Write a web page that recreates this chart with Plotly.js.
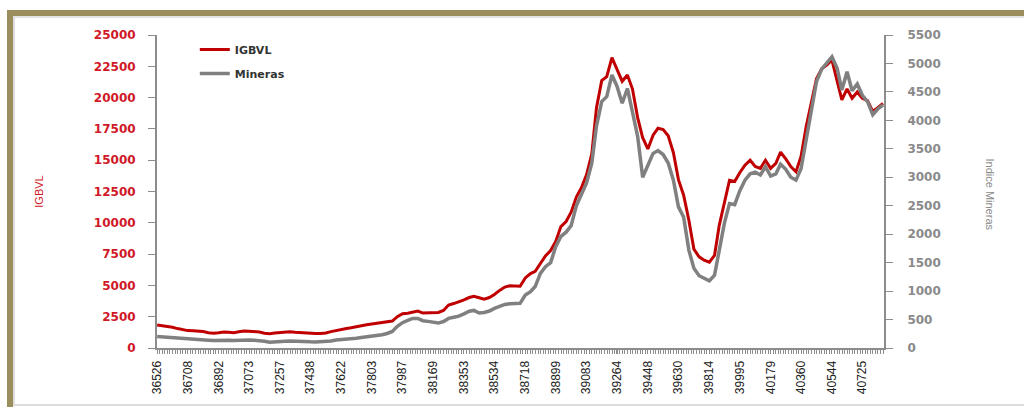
<!DOCTYPE html>
<html>
<head>
<meta charset="utf-8">
<script src="https://cdn.plot.ly/plotly-3.0.1.min.js"></script>
<style>
  html, body { margin: 0; padding: 0; background: #ffffff; width: 1024px; height: 407px; overflow: hidden; }
  #chart { position: absolute; left: 0; top: 0; width: 1024px; height: 407px; }
  .frame-olive { position: absolute; left: 7px; top: 10px; width: 1200px; height: 1200px;
                 border-left: 6px solid #9a8e5c; border-top: 6px solid #9a8e5c; pointer-events: none; }
  .frame-inner { position: absolute; left: 13px; top: 16px; width: 1200px; height: 386px;
                 border-left: 2px solid #dedede; border-top: 2px solid #e4e4e4; border-bottom: 2px solid #dcdcdc; pointer-events: none; }
</style>
</head>
<body>
<div id="chart"></div>
<div class="frame-olive"></div>
<div class="frame-inner"></div>
<script>
// Monthly observations, January 2000 to November 2011 (Excel date serials on the x axis)
const startYear = 2000, startMonth = 0, monthCount = 143;

// IGBVL index (left axis)
const igbvl = [
  1840, 1790, 1730, 1650, 1550, 1450, 1390, 1370, 1370, 1310, 1220, 1170,
  1220, 1280, 1260, 1220, 1290, 1350, 1340, 1310, 1280, 1180, 1140, 1190,
  1240, 1270, 1300, 1260, 1220, 1180, 1140, 1150, 1165, 1200, 1310, 1410,
  1500, 1560, 1610, 1710, 1790, 1850, 1910, 1970, 2040, 2080, 2150, 2500,
  2740, 2780, 2880, 2950, 2790, 2790, 2810, 2840, 3000, 3430, 3550, 3670,
  3840, 4030, 4130, 4010, 3900, 4030, 4270, 4600, 4870, 4970, 4930, 4930,
  5600, 5950, 6120, 6800, 7350, 7780, 8500, 9700, 10100, 10850, 12050, 12800,
  13850, 15500, 19200, 21350, 21670, 23200, 22300, 21300, 21800, 20700, 18400, 16800,
  15900, 17000, 17550, 17450, 16950, 15600, 13450, 12200, 10200, 7900, 7280, 7010,
  6850, 7400, 9800, 11700, 13400, 13300, 14000, 14600, 15000, 14500, 14350, 15000,
  14350, 14750, 15650, 15100, 14500, 14080, 15300, 17700, 19600, 21500, 22300, 22600,
  23000, 21400, 19810, 20700, 19950, 20450, 19950, 19750, 18900, 19200, 19540
];

// Indice Mineras (right axis)
const mineras = [
  200, 195, 185, 178, 172, 165, 162, 160, 158, 150, 138, 130,
  135, 141, 135, 130, 136, 141, 139, 137, 132, 118, 102, 102,
  110, 117, 123, 123, 123, 118, 108, 107, 109, 112, 125, 140,
  145, 150, 156, 170, 183, 192, 205, 220, 232, 255, 290, 380,
  445, 485, 520, 520, 480, 468, 455, 438, 465, 520, 540, 560,
  600, 645, 660, 615, 625, 650, 695, 730, 765, 778, 782, 785,
  930, 990, 1080, 1312, 1430, 1500, 1780, 1960, 2035, 2150, 2500, 2690,
  2900, 3250, 3900, 4330, 4416, 4800, 4600, 4300, 4560, 4150, 3720, 3000,
  3220, 3420, 3470, 3400, 3250, 2950, 2480, 2300, 1720, 1400, 1270, 1230,
  1180, 1280, 1700, 2200, 2540, 2520, 2760, 2950, 3060, 3090, 3040, 3185,
  3020, 3060, 3230, 3140, 3000, 2950, 3150, 3650, 4150, 4680, 4900, 5000,
  5118, 4914, 4533, 4855, 4520, 4640, 4440, 4330, 4100, 4200, 4270
];

// X tick labels (Excel serial dates shown every six months)
const tickLabels = ['36526','36708','36892','37073','37257','37438','37622','37803',
  '37987','38169','38353','38534','38718','38899','39083','39264','39448','39630',
  '39814','39995','40179','40360','40544','40725'];
const tickVals = tickLabels.map(Number);

// Category serials: first day of each month
const excelEpoch = Date.UTC(1899, 11, 30);
const categories = [];
for (let k = 0; k < monthCount; k++) {
  const d = Date.UTC(startYear, startMonth + k, 1);
  categories.push(Math.round((d - excelEpoch) / 86400000));
}

const RED = '#c00000';
const GRAY = '#808080';
const AXIS = '#8c8c8c';

const traces = [
  { x: categories, y: igbvl, name: 'IGBVL', type: 'scatter', mode: 'lines',
    line: { color: RED, width: 3 }, legendgroup: 'a', yaxis: 'y' },
  { x: categories, y: mineras, name: 'Mineras', type: 'scatter', mode: 'lines',
    line: { color: GRAY, width: 3.5 }, legendgroup: 'b', yaxis: 'y2' }
];

const layout = {
  width: 1024, height: 407,
  margin: { l: 157, r: 140, t: 35, b: 59, pad: 0 },
  paper_bgcolor: 'rgba(0,0,0,0)',
  plot_bgcolor: 'rgba(0,0,0,0)',
  showlegend: true,
  legend: {
    x: 0.052, y: 1.0, xanchor: 'left', yanchor: 'top',
    bgcolor: 'rgba(0,0,0,0)', traceorder: 'grouped', tracegroupgap: 5,
    font: { family: 'DejaVu Sans, Verdana, sans-serif', size: 11, color: '#333333', weight: 'bold' }
  },
  xaxis: {
    type: 'linear',
    range: [categories[0] - 1, categories[categories.length - 1] + 6],
    tickmode: 'array', tickvals: tickVals, ticktext: tickLabels,
    tickangle: -90,
    ticks: 'outside', ticklen: 4, tickwidth: 1, tickcolor: AXIS,
    minor: { dtick: 15.22, tick0: categories[0], ticks: 'outside', ticklen: 4, tickwidth: 1, tickcolor: AXIS },
    showline: true, linecolor: AXIS, linewidth: 2,
    showgrid: false, zeroline: false,
    tickfont: { family: 'Liberation Sans Narrow, Arial Narrow, Liberation Sans, sans-serif', size: 12, color: '#222222' },
    ticklabelstandoff: 2
  },
  yaxis: {
    range: [0, 25000], dtick: 2500, tick0: 0, tickformat: 'd',
    ticks: 'outside', ticklen: 7, tickwidth: 1, tickcolor: AXIS,
    showline: true, linecolor: AXIS, linewidth: 2,
    showgrid: false, zeroline: false,
    tickfont: { family: 'DejaVu Sans, Verdana, sans-serif', size: 12, color: '#d01828', weight: 'bold' },
    ticklabelstandoff: 10,
    title: { text: 'IGBVL', standoff: 48,
             font: { family: 'Liberation Sans, Arial, sans-serif', size: 11, color: '#d01828' } }
  },
  yaxis2: {
    overlaying: 'y', side: 'right',
    range: [0, 5500], dtick: 500, tick0: 0, tickformat: 'd',
    ticks: 'outside', ticklen: 7, tickwidth: 1, tickcolor: AXIS,
    showline: true, linecolor: AXIS, linewidth: 2,
    showgrid: false, zeroline: false,
    tickfont: { family: 'DejaVu Sans, Verdana, sans-serif', size: 12, color: '#8a8a8a', weight: 'bold' },
    ticklabelstandoff: 12
  },
  annotations: [
    { text: 'Indice Mineras', xref: 'paper', yref: 'paper', x: 1.146, y: 0.49,
      xanchor: 'center', yanchor: 'middle', textangle: 90, showarrow: false,
      font: { family: 'Liberation Sans, Arial, sans-serif', size: 11, color: '#8a8a8a' } }
  ]
};

Plotly.newPlot('chart', traces, layout, { displayModeBar: false, staticPlot: true });
</script>
</body>
</html>
